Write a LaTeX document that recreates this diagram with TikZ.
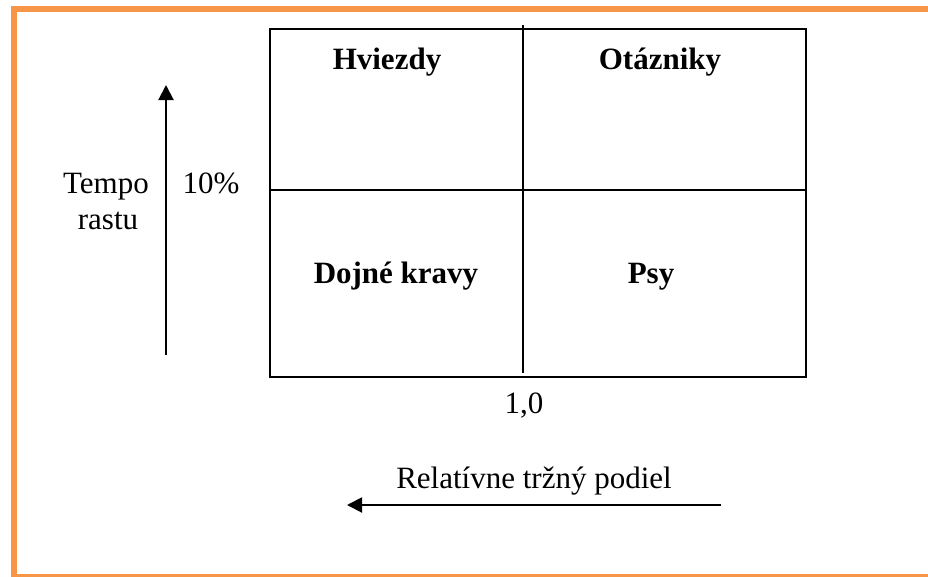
\documentclass[tikz,border=0pt]{standalone}
\usepackage{fontspec}
\setmainfont{Liberation Serif}
\usetikzlibrary{arrows.meta}
\definecolor{frameorange}{HTML}{F79646}
\tikzset{
  lbl/.style={anchor=base, inner sep=0pt, font=\fontsize{31}{36}\selectfont},
  blbl/.style={lbl, font=\fontsize{31}{36}\selectfont\bfseries},
  gridline/.style={line width=2pt, black},
  axisarrow/.style={line width=2pt, -{Triangle[length=15pt,width=15pt]}}
}
\begin{document}
\begin{tikzpicture}[x=1pt,y=-1pt]
\useasboundingbox (0,0) rectangle (928,576);
\clip (0,0) rectangle (928,576);
\fill[white] (0,0) rectangle (928,576);
% orange frame
\draw[frameorange, line width=6pt] (14,9) rectangle (940,577);
% matrix
\coordinate (tl) at (270,29);
\coordinate (br) at (806,377);
\draw[gridline] (tl) rectangle (br);
\coordinate (vtop) at (523,25);
\coordinate (vbot) at (523,373);
\draw[gridline] (vtop) -- (vbot);
\coordinate (hl) at (270,190);
\coordinate (hr) at (806,190);
\draw[gridline] (hl) -- (hr);
% quadrant labels
\node[blbl] (hviezdy) at (387,69) {Hviezdy};
\node[blbl] (otazniky) at (660,69) {Otázniky};
\node[blbl] (dojne) at (396,283) {Dojné kravy};
\node[blbl] (psy) at (651,283) {Psy};
% axis labels
\node[lbl] (tempo) at (106,193) {Tempo};
\node[lbl] (rastu) at (108,229) {rastu};
\node[lbl] (ten) at (211,193) {10\%};
\node[lbl] (one) at (524,413) {1,0};
\node[lbl] (rel) at (534,488) {Relatívne tržný podiel};
% arrows
\coordinate (upstart) at (166,355);
\coordinate (upend) at (166,85);
\draw[axisarrow] (upstart) -- (upend);
\coordinate (lstart) at (721,505);
\coordinate (lend) at (347,505);
\draw[axisarrow] (lstart) -- (lend);
\end{tikzpicture}
\end{document}
